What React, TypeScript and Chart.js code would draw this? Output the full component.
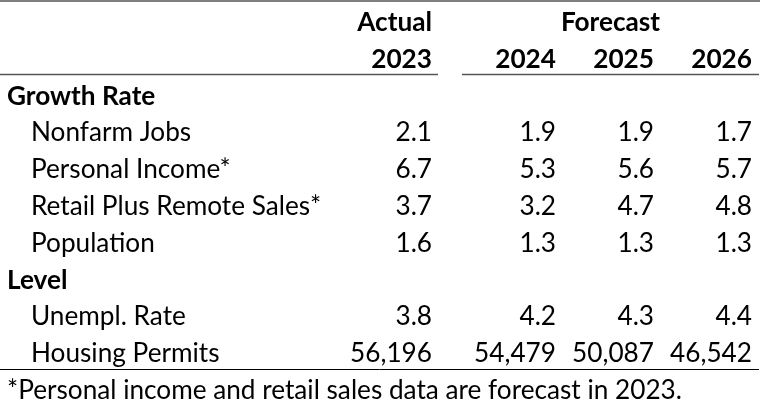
import React, { useEffect, useRef } from "react";
import { Chart, registerables } from "chart.js";

Chart.register(...registerables);

// ---- data ----
const actualYears = ["2023"];
const forecastYears = ["2024", "2025", "2026"];
const groupHeaders = ["Actual", "Forecast"];
const growthRows = ["Nonfarm Jobs", "Personal Income*", "Retail Plus Remote Sales*", "Population"];
const levelRows = ["Unempl. Rate", "Housing Permits"];
const sectionTitles = ["Growth Rate", "Level"];
const nonfarmJobs = [2.1, 1.9, 1.9, 1.7];
const personalIncome = [6.7, 5.3, 5.6, 5.7];
const retailSales = [3.7, 3.2, 4.7, 4.8];
const population = [1.6, 1.3, 1.3, 1.3];
const unemplRate = [3.8, 4.2, 4.3, 4.4];
const housingPermits = [56196, 54479, 50087, 46542];
const footnote = "*Personal income and retail sales data are forecast in 2023.";

// ---- layout (scale units) ----
const W = 760;
const H = 408;
const colRight = [432, 556, 654, 752];
const labelX = 7;
const indentX = 31;
const forecastSpan = [462, 759];
const FONT = "Lato, 'Open Sans', sans-serif";
const FS = 26.2;

const rowKeys = [
  "hdr1",
  "hdr2",
  "sec0",
  ...growthRows,
  "sec1",
  ...levelRows,
  "foot",
];

export default function App() {
  const ref = useRef<HTMLCanvasElement | null>(null);

  useEffect(() => {
    document.body.style.margin = "0";
    const canvas = ref.current!;
    const years = [...actualYears, ...forecastYears];
    const dataRows: { key: string; vals: number[]; fmt: (v: number) => string }[] = [
      { key: growthRows[0], vals: nonfarmJobs, fmt: (v) => v.toFixed(1) },
      { key: growthRows[1], vals: personalIncome, fmt: (v) => v.toFixed(1) },
      { key: growthRows[2], vals: retailSales, fmt: (v) => v.toFixed(1) },
      { key: growthRows[3], vals: population, fmt: (v) => v.toFixed(1) },
      { key: levelRows[0], vals: unemplRate, fmt: (v) => v.toFixed(1) },
      { key: levelRows[1], vals: housingPermits, fmt: (v) => v.toLocaleString("en-US") },
    ];

    const datasets: any[] = dataRows.map((r) => ({
      label: r.key,
      data: r.vals.map((v, j) => ({ x: colRight[j], y: r.key, v, t: r.fmt(v) })),
      pointRadius: 0,
      showLine: false,
    }));
    // header years
    datasets.push({
      label: "years",
      data: years.map((y, j) => ({ x: colRight[j], y: "hdr2", t: y })),
      pointRadius: 0,
    });

    const tablePlugin = {
      id: "table",
      afterDraw(chart: any) {
        const ctx = chart.ctx as CanvasRenderingContext2D;
        const ys = chart.scales.y;
        const xs = chart.scales.x;
        const rowY = (k: string) => ys.getPixelForValue(rowKeys.indexOf(k));
        const band = rowY(rowKeys[1]) - rowY(rowKeys[0]);
        ctx.save();
        ctx.font = `${FS}px ${FONT}`;
        const cap = ctx.measureText("H").actualBoundingBoxAscent;
        const base = (y: number) => y + cap / 2;
        const color = "#000000";
        ctx.fillStyle = color;

        const text = (s: string, x: number, y: number, align: CanvasTextAlign, bold: boolean) => {
          ctx.font = `${bold ? "bold " : ""}${FS}px ${FONT}`;
          ctx.textAlign = align;
          ctx.textBaseline = "alphabetic";
          ctx.fillText(s, x, base(y));
        };

        // group headers
        text(groupHeaders[0], xs.getPixelForValue(colRight[0]), rowY("hdr1"), "right", true);
        text(
          groupHeaders[1],
          xs.getPixelForValue((forecastSpan[0] + forecastSpan[1]) / 2),
          rowY("hdr1"),
          "center",
          true
        );
        // section titles
        text(sectionTitles[0], xs.getPixelForValue(labelX), rowY("sec0"), "left", true);
        text(sectionTitles[1], xs.getPixelForValue(labelX), rowY("sec1"), "left", true);
        // footnote
        text(footnote, xs.getPixelForValue(labelX), rowY("foot"), "left", false);

        // datasets
        chart.data.datasets.forEach((ds: any, i: number) => {
          const meta = chart.getDatasetMeta(i);
          const isYears = ds.label === "years";
          if (!isYears) {
            text(ds.label, xs.getPixelForValue(indentX), meta.data[0].y, "left", false);
          }
          meta.data.forEach((pt: any, j: number) => {
            text(ds.data[j].t, pt.x, pt.y, "right", isYears);
          });
        });

        // rules
        const boundary = (i: number) => rowY(rowKeys[i]) - band / 2;
        ctx.lineWidth = 1.5;
        ctx.strokeStyle = "#555555";
        ctx.beginPath();
        ctx.moveTo(xs.getPixelForValue(0), 1);
        ctx.lineTo(xs.getPixelForValue(W), 1);
        ctx.stroke();
        const hy = Math.round(boundary(2)) - 1.5;
        ctx.beginPath();
        ctx.moveTo(xs.getPixelForValue(0), hy);
        ctx.lineTo(xs.getPixelForValue(438), hy);
        ctx.moveTo(xs.getPixelForValue(forecastSpan[0]), hy);
        ctx.lineTo(xs.getPixelForValue(forecastSpan[1]), hy);
        ctx.stroke();
        ctx.lineWidth = 1;
        ctx.strokeStyle = "#000000";
        const by = Math.round(boundary(rowKeys.length - 1)) - 1.5;
        ctx.beginPath();
        ctx.moveTo(xs.getPixelForValue(0), by);
        ctx.lineTo(xs.getPixelForValue(forecastSpan[1]), by);
        ctx.stroke();
        ctx.restore();
      },
    };

    const chart = new Chart(canvas, {
      type: "scatter",
      data: { datasets },
      options: {
        animation: false,
        responsive: false,
        events: [],
        layout: { padding: { top: 2.6, bottom: 0.6, left: 0, right: 0 } },
        plugins: { legend: { display: false }, tooltip: { enabled: false } },
        scales: {
          x: { type: "linear", min: 0, max: W, display: false },
          y: { type: "category", labels: rowKeys, offset: true, display: false },
        },
      },
      plugins: [tablePlugin],
    });
    return () => chart.destroy();
  }, []);

  return (
    <div style={{ width: W, height: H, background: "#fff" }}>
      <canvas ref={ref} width={W} height={H} style={{ display: "block" }} />
    </div>
  );
}
